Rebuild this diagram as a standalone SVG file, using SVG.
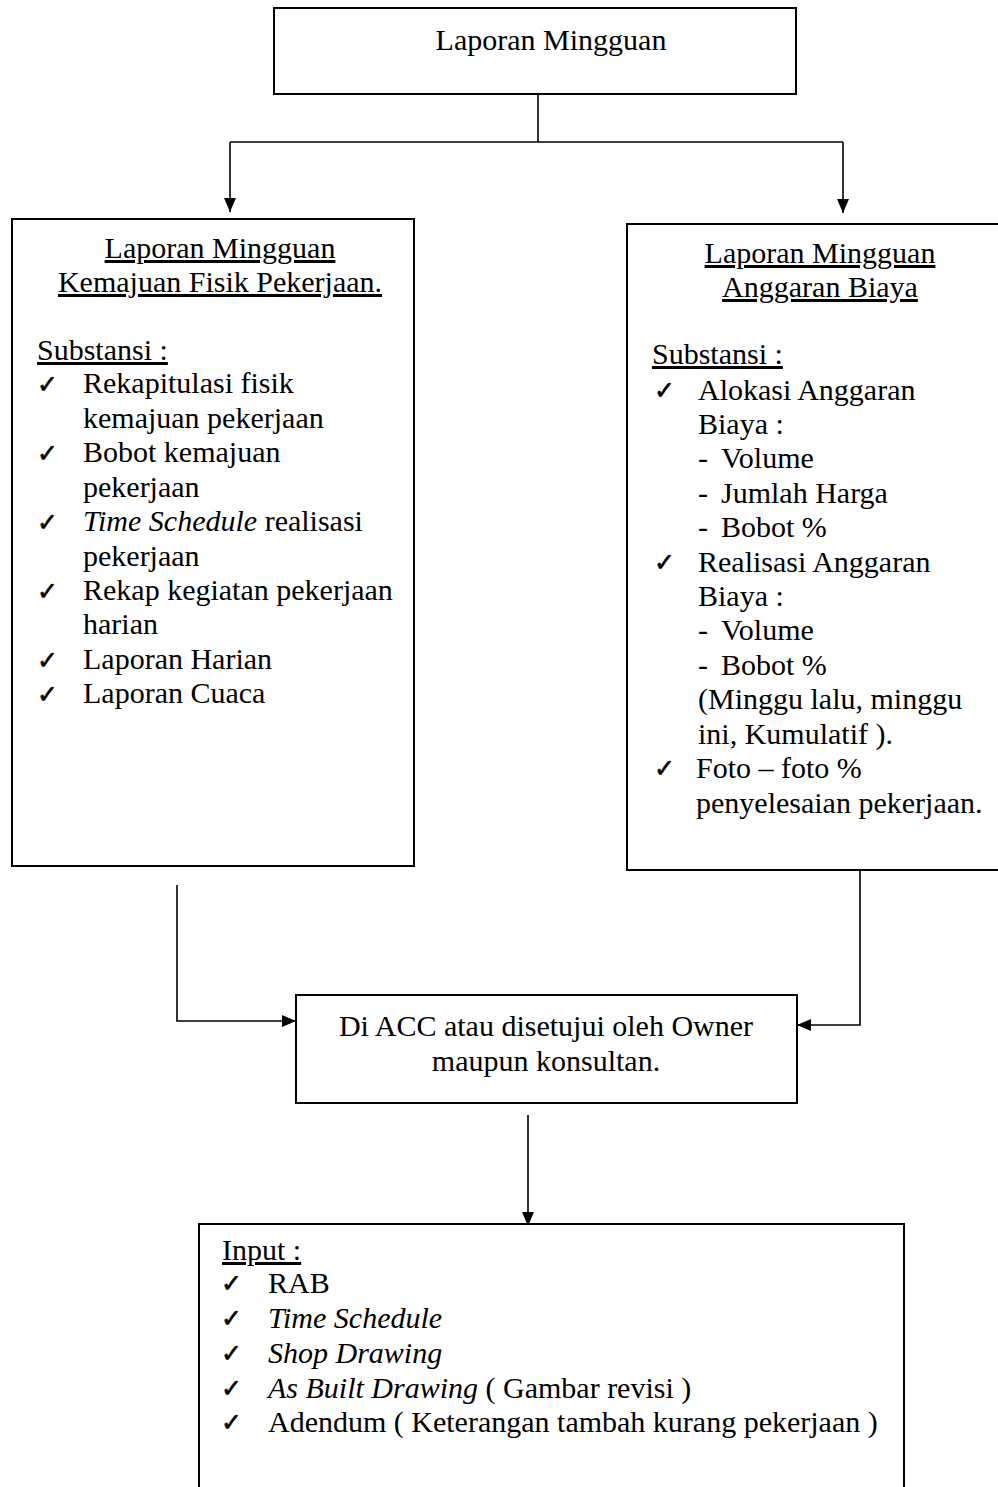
<svg xmlns="http://www.w3.org/2000/svg" width="998" height="1487" viewBox="0 0 998 1487">
<style>
.box{fill:#fff;stroke:#000;stroke-width:2}
.t{font-family:"Liberation Serif","Times New Roman",serif;font-size:30px;fill:#000}
.c{text-anchor:middle}
.u{text-decoration:underline}
.i{font-style:italic}
.ck{font-family:"DejaVu Sans",sans-serif;font-size:25px;fill:#000;stroke:#000;stroke-width:0.6}
.ln{fill:none;stroke:#000;stroke-width:1.6}
</style>
<defs>
<marker id="ah" viewBox="0 0 14 12" refX="14" refY="6" markerWidth="14" markerHeight="12" markerUnits="userSpaceOnUse" orient="auto">
<path d="M0,0 L14,6 L0,12 Z" fill="#000"/>
</marker>
</defs>
<rect width="998" height="1487" fill="#fff"/>
<g id="connectors">
<path class="ln" d="M538,94 V142"/>
<path class="ln" d="M230,142 H843"/>
<path class="ln" d="M230,142 V212" marker-end="url(#ah)"/>
<path class="ln" d="M843,142 V213" marker-end="url(#ah)"/>
<path class="ln" d="M177,885 V1021 H296" marker-end="url(#ah)"/>
<path class="ln" d="M860,870 V1025 H797" marker-end="url(#ah)"/>
<path class="ln" d="M528,1115 V1226" marker-end="url(#ah)"/>
</g>
<g id="top">
<rect class="box" x="274" y="8" width="522" height="86"/>
<text class="t c" x="551" y="50">Laporan Mingguan</text>
</g>
<g id="left">
<rect class="box" x="12" y="219" width="402" height="647"/>
<text class="t c u" x="220" y="258">Laporan Mingguan</text>
<text class="t c u" x="220" y="292">Kemajuan Fisik Pekerjaan.</text>
<text class="t u" x="37" y="360">Substansi :</text>
<text class="ck" x="37" y="393">✓</text>
<text class="t" x="83" y="393">Rekapitulasi fisik</text>
<text class="t" x="83" y="428">kemajuan pekerjaan</text>
<text class="ck" x="37" y="462">✓</text>
<text class="t" x="83" y="462">Bobot kemajuan</text>
<text class="t" x="83" y="497">pekerjaan</text>
<text class="ck" x="37" y="531">✓</text>
<text class="t" x="83" y="531"><tspan class="i">Time Schedule</tspan> realisasi</text>
<text class="t" x="83" y="566">pekerjaan</text>
<text class="ck" x="37" y="600">✓</text>
<text class="t" x="83" y="600">Rekap kegiatan pekerjaan</text>
<text class="t" x="83" y="634">harian</text>
<text class="ck" x="37" y="669">✓</text>
<text class="t" x="83" y="669">Laporan Harian</text>
<text class="ck" x="37" y="703">✓</text>
<text class="t" x="83" y="703">Laporan Cuaca</text>
</g>
<g id="right">
<rect class="box" x="627" y="224" width="390" height="646"/>
<text class="t c u" x="820" y="263">Laporan Mingguan</text>
<text class="t c u" x="820" y="297">Anggaran Biaya</text>
<text class="t u" x="652" y="364">Substansi :</text>
<text class="ck" x="654" y="399">✓</text>
<text class="t" x="698" y="400">Alokasi Anggaran</text>
<text class="t" x="698" y="434">Biaya :</text>
<text class="t" x="698" y="468">-</text><text class="t" x="721" y="468">Volume</text>
<text class="t" x="698" y="503">-</text><text class="t" x="721" y="503">Jumlah Harga</text>
<text class="t" x="698" y="537">-</text><text class="t" x="721" y="537">Bobot %</text>
<text class="ck" x="654" y="571">✓</text>
<text class="t" x="698" y="572">Realisasi Anggaran</text>
<text class="t" x="698" y="606">Biaya :</text>
<text class="t" x="698" y="640">-</text><text class="t" x="721" y="640">Volume</text>
<text class="t" x="698" y="675">-</text><text class="t" x="721" y="675">Bobot %</text>
<text class="t" x="698" y="709">(Minggu lalu, minggu</text>
<text class="t" x="698" y="744">ini, Kumulatif ).</text>
<text class="ck" x="654" y="777">✓</text>
<text class="t" x="696" y="778">Foto – foto %</text>
<text class="t" x="696" y="813">penyelesaian pekerjaan.</text>
</g>
<g id="middle">
<rect class="box" x="296" y="995" width="501" height="108"/>
<text class="t c" x="546" y="1036">Di ACC atau disetujui oleh Owner</text>
<text class="t c" x="546" y="1071">maupun konsultan.</text>
</g>
<g id="bottom">
<rect class="box" x="199" y="1224" width="705" height="290"/>
<text class="t u" x="222" y="1260">Input :</text>
<text class="ck" x="221" y="1292">✓</text>
<text class="t" x="268" y="1293">RAB</text>
<text class="ck" x="221" y="1327">✓</text>
<text class="t i" x="268" y="1328">Time Schedule</text>
<text class="ck" x="221" y="1362">✓</text>
<text class="t i" x="268" y="1363">Shop Drawing</text>
<text class="ck" x="221" y="1397">✓</text>
<text class="t" x="268" y="1398"><tspan class="i">As Built Drawing</tspan> ( Gambar revisi )</text>
<text class="ck" x="221" y="1431">✓</text>
<text class="t" x="268" y="1432">Adendum ( Keterangan tambah kurang pekerjaan )</text>
</g>
</svg>
